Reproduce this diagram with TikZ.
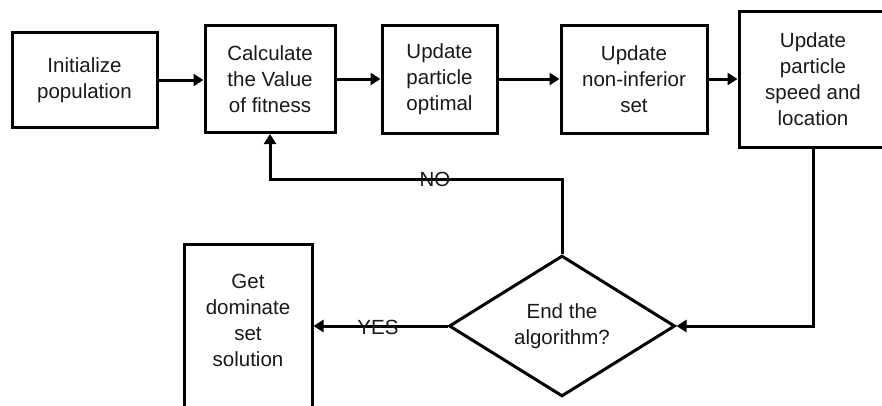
\documentclass[tikz,border=0pt]{standalone}
\usepackage{fontspec}
\setmainfont{Liberation Sans}
\usetikzlibrary{arrows.meta,shapes.geometric}

\begin{document}
\begin{tikzpicture}[x=1pt,y=-1pt,
  every node/.style={font=\fontsize{20.5}{26}\selectfont, align=center, text=black!90},
  box/.style={draw, line width=3pt, inner sep=0pt, rectangle},
  decision/.style={draw, line width=3pt, inner sep=0pt, diamond,
                   minimum width=226pt, minimum height=119pt},
  flow/.style={line width=3pt, -{Triangle[length=10pt,width=12pt]}},
  tag/.style={inner sep=0pt}]
  \useasboundingbox (0,0) rectangle (882,405);
  \clip (0,0) rectangle (882,405);

  % process steps
  \node[box, minimum width=145pt, minimum height=95pt]  (init)  at (84.5,80) {Initialize\\population};
  \node[box, minimum width=130pt, minimum height=107pt] (calc)  at (270,79)  {Calculate\\the Value\\of fitness};
  \node[box, minimum width=115pt, minimum height=108pt] (opt)   at (439.5,79)  {Update\\particle\\optimal};
  \node[box, minimum width=146pt, minimum height=108pt] (nonif) at (634,79)    {Update\\non-inferior\\set};
  \node[box, minimum width=148pt, minimum height=136pt] (speed) at (813,79)    {Update\\particle\\speed and\\location};

  % termination test and result
  \node[decision] (test) at (562,326) {End the\\algorithm?};
  \node[box, minimum width=128pt, minimum height=180pt] (get) at (248,334) {};
  \node at (248,320) {Get\\dominate\\set\\solution};

  % main sequence
  \draw[flow] (init.east)  -- (init.east -| calc.west);
  \draw[flow] (calc.east)  -- (calc.east -| opt.west);
  \draw[flow] (opt.east)   -- (opt.east -| nonif.west);
  \draw[flow] (nonif.east) -- (nonif.east -| speed.west);
  \draw[flow] (speed.south) |- (test.east);

  % loop back when not finished
  \coordinate (back) at (562,179);
  \draw[flow] (test.north) -- (back) -| (calc.south);
  \node[tag] at (435,179) {NO};

  % finished
  \draw[flow] (test.west) -- (test.west -| get.east);
  \node[tag] at (378,327) {YES};
\end{tikzpicture}
\end{document}
